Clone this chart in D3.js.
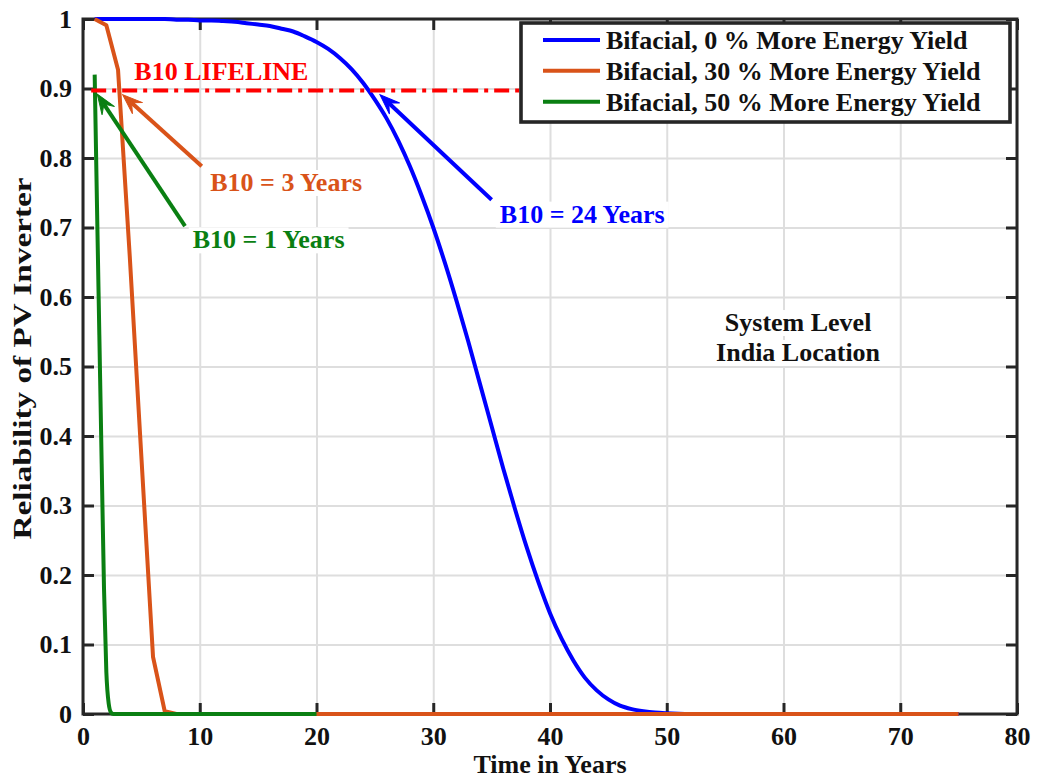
<!DOCTYPE html>
<html>
<head>
<meta charset="utf-8">
<script src="https://cdn.jsdelivr.net/npm/d3@7"></script>
<style>
  html, body { margin: 0; padding: 0; background: #ffffff; }
  svg { display: block; font-family: "Liberation Serif", "Times New Roman", serif; font-weight: bold; }
</style>
</head>
<body>
<svg id="chart" width="1039" height="780"></svg>
<script>
// ---- Data -------------------------------------------------------------
// Reliability of the PV inverter over time (years) for three bifacial gain cases.
const blueYears = [1, 2, 3, 4, 5, 6, 7, 8, 9, 10, 11, 12, 13, 14, 15, 16, 17, 18, 19, 20,
  21, 22, 23, 24, 25, 26, 27, 28, 29, 30, 31, 32, 33, 34, 35, 36, 37, 38, 39, 40,
  41, 42, 43, 44, 45, 46, 47, 48, 49, 50, 51, 52, 55, 75];
const reliability0 = [1, 1, 1, 1, 1, 1, 1, 0.999, 0.999, 0.998, 0.998, 0.997, 0.996, 0.994, 0.992, 0.990, 0.986, 0.982, 0.975, 0.967,
  0.957, 0.944, 0.928, 0.908, 0.884, 0.857, 0.825, 0.788, 0.746, 0.700, 0.649, 0.594, 0.536, 0.475, 0.414, 0.353, 0.295, 0.240, 0.190, 0.145,
  0.108, 0.077, 0.052, 0.034, 0.021, 0.012, 0.007, 0.004, 0.002, 0.001, 0.0004, 0.0001, 0, 0];

const orangeYears = [1, 2, 3, 4, 5, 6, 7, 8, 75];
const reliability30 = [1, 0.991, 0.927, 0.66, 0.37, 0.082, 0.004, 0, 0];

const greenYears = [1, 1.2, 1.4, 1.6, 1.8, 2.0, 2.2, 2.4, 2.6, 20];
const reliability50 = [0.92, 0.73, 0.545, 0.36, 0.18, 0.06, 0.015, 0.002, 0, 0];

const seriesNames = [
  "Bifacial, 0 % More Energy Yield",
  "Bifacial, 30 % More Energy Yield",
  "Bifacial, 50 % More Energy Yield"
];

const xTicks = [0, 10, 20, 30, 40, 50, 60, 70, 80];
const yTicks = [0, 0.1, 0.2, 0.3, 0.4, 0.5, 0.6, 0.7, 0.8, 0.9, 1];
const yTickLabels = ["0", "0.1", "0.2", "0.3", "0.4", "0.5", "0.6", "0.7", "0.8", "0.9", "1"];

// B10 lifeline (reliability level) and its extent in years
const b10Level = 0.897;
const b10Span = [0.7, 75];

// Annotation arrows: [tail year, tail reliability, tip year, tip reliability]
const arrowB10_0 = [35.0, 0.740, 25.44, 0.891];
const arrowB10_30 = [10.17, 0.788, 3.40, 0.891];
const arrowB10_50 = [8.74, 0.702, 1.22, 0.892];

// Annotation text anchors: [year, reliability]
const labelB10_0 = [35.7, 0.707];
const labelB10_30 = [10.9, 0.7525];
const labelB10_50 = [9.4, 0.670];
const labelLifeline = [4.4, 0.912];
const labelSystem = [61.25, 0.551];
const labelLocation = [61.25, 0.508];

// ---- Styles -----------------------------------------------------------
const BLUE = "#0000ff", ORANGE = "#d95319", GREEN = "#0a7f12", RED = "#ff0000";
const INK = "#262626", GRID = "#dedede";
const FONT = 26;
const LINE_W = 4;

// ---- Layout -----------------------------------------------------------
const svg = d3.select("#chart");
const L = 83, R = 1017, T = 19, B = 714;
const x = d3.scaleLinear().domain([0, 80]).range([L, R]);
const y = d3.scaleLinear().domain([0, 1]).range([B, T]);

// Grid
const grid = svg.append("g");
grid.append("g").attr("transform", `translate(0,${B})`)
  .call(d3.axisBottom(x).tickValues(xTicks).tickSize(-(B - T)).tickFormat(""))
  .call(g => g.select(".domain").remove())
  .call(g => g.selectAll("line").attr("stroke", GRID).attr("stroke-width", 2));
grid.append("g").attr("transform", `translate(${L},0)`)
  .call(d3.axisLeft(y).tickValues(yTicks).tickSize(-(R - L)).tickFormat(""))
  .call(g => g.select(".domain").remove())
  .call(g => g.selectAll("line").attr("stroke", GRID).attr("stroke-width", 2));

// Axes box and inward ticks
const TICK = 11;
const axes = svg.append("g");
function styleAxis(g) {
  g.select(".domain").remove();
  g.selectAll("line").attr("stroke", INK).attr("stroke-width", 3);
  g.selectAll("text").attr("fill", "#111").attr("font-size", FONT)
    .attr("font-family", "'Liberation Serif','Times New Roman',serif").attr("font-weight", "bold");
}
axes.append("g").attr("transform", `translate(0,${B})`)
  .call(d3.axisBottom(x).tickValues(xTicks).tickSizeInner(-TICK).tickSizeOuter(0).tickPadding(12.5))
  .call(styleAxis);
axes.append("g").attr("transform", `translate(0,${T})`)
  .call(d3.axisTop(x).tickValues(xTicks).tickSizeInner(-TICK).tickSizeOuter(0).tickFormat(""))
  .call(styleAxis);
axes.append("g").attr("transform", `translate(${L},0)`)
  .call(d3.axisLeft(y).tickValues(yTicks).tickSizeInner(-TICK).tickSizeOuter(0).tickPadding(11)
    .tickFormat((d, i) => yTickLabels[i]))
  .call(styleAxis);
axes.append("g").attr("transform", `translate(${R},0)`)
  .call(d3.axisRight(y).tickValues(yTicks).tickSizeInner(-TICK).tickSizeOuter(0).tickFormat(""))
  .call(styleAxis);
axes.append("rect").attr("x", L).attr("y", T).attr("width", R - L).attr("height", B - T)
  .attr("fill", "none").attr("stroke", INK).attr("stroke-width", 3);

// Axis titles
svg.append("text").attr("x", (L + R) / 2).attr("y", 773).attr("text-anchor", "middle")
  .attr("font-size", FONT).attr("fill", "#111").text("Time in Years");
svg.append("text").attr("transform", `translate(31,${(T + B) / 2 - 8}) rotate(-90)`)
  .attr("text-anchor", "middle").attr("font-size", FONT).attr("fill", "#111")
  .attr("textLength", 362).attr("lengthAdjust", "spacingAndGlyphs")
  .text("Reliability of PV Inverter");

// Curves
const series = [
  { xs: blueYears, ys: reliability0, color: BLUE, curve: d3.curveMonotoneX },
  { xs: orangeYears, ys: reliability30, color: ORANGE, curve: d3.curveLinear },
  { xs: greenYears, ys: reliability50, color: GREEN, curve: d3.curveMonotoneX }
];
const curves = svg.append("g");
series.forEach(s => {
  const pts = s.xs.map((t, i) => [t, s.ys[i]]);
  curves.append("path").datum(pts)
    .attr("fill", "none").attr("stroke", s.color).attr("stroke-width", LINE_W)
    .attr("stroke-linejoin", "round")
    .attr("d", d3.line().x(d => x(d[0])).y(d => y(d[1])).curve(s.curve));
});

// B10 lifeline
svg.append("line")
  .attr("x1", x(b10Span[0])).attr("x2", x(b10Span[1]))
  .attr("y1", y(b10Level)).attr("y2", y(b10Level))
  .attr("stroke", RED).attr("stroke-width", LINE_W).attr("stroke-dasharray", "15,6,4,6");

// Arrows
const ann = svg.append("g");
function arrow(a, color) {
  const x0 = x(a[0]), y0 = y(a[1]), x1 = x(a[2]), y1 = y(a[3]);
  const ang = Math.atan2(y1 - y0, x1 - x0);
  const HL = 20, HW = 15, notch = 0.6;
  const nx = x1 - Math.cos(ang) * HL * notch, ny = y1 - Math.sin(ang) * HL * notch;
  ann.append("line").attr("x1", x0).attr("y1", y0).attr("x2", nx).attr("y2", ny)
    .attr("stroke", color).attr("stroke-width", LINE_W);
  const head = [[0, 0], [-HL, HW / 2], [-HL * notch, 0], [-HL, -HW / 2]];
  ann.append("path")
    .attr("d", "M" + head.map(p => p.join(",")).join("L") + "Z")
    .attr("transform", `translate(${x1},${y1}) rotate(${ang * 180 / Math.PI})`)
    .attr("fill", color).attr("stroke", color).attr("stroke-width", 1).attr("stroke-linejoin", "miter");
}
arrow(arrowB10_0, BLUE);
arrow(arrowB10_30, ORANGE);
arrow(arrowB10_50, GREEN);

// Text annotations with white backing boxes
function boxedText(pos, str, color, anchor, boxed) {
  const g = ann.append("g");
  const t = g.append("text").attr("x", x(pos[0])).attr("y", y(pos[1]))
    .attr("text-anchor", anchor).attr("font-size", FONT).attr("fill", color).text(str);
  if (boxed) {
    const bb = t.node().getBBox();
    g.insert("rect", "text").attr("x", bb.x - 4).attr("y", bb.y + 2)
      .attr("width", bb.width + 8).attr("height", bb.height - 3).attr("fill", "#ffffff");
  }
}
boxedText(labelLifeline, "B10 LIFELINE", RED, "start", false);
boxedText(labelB10_30, "B10 = 3 Years", ORANGE, "start", true);
boxedText(labelB10_50, "B10 = 1 Years", GREEN, "start", true);
boxedText(labelB10_0, "B10 = 24 Years", BLUE, "start", true);
boxedText(labelSystem, "System Level", "#111", "middle", true);
boxedText(labelLocation, "India Location", "#111", "middle", true);

// Legend
const legend = svg.append("g");
const LX = 521, LY = 23, LW = 489, LH = 99;
legend.append("rect").attr("x", LX).attr("y", LY).attr("width", LW).attr("height", LH)
  .attr("fill", "#ffffff").attr("stroke", INK).attr("stroke-width", 3.6);
const rowY = [40, 70.7, 101.7];
seriesNames.forEach((name, i) => {
  legend.append("line").attr("x1", 543).attr("x2", 600).attr("y1", rowY[i]).attr("y2", rowY[i])
    .attr("stroke", series[i].color).attr("stroke-width", LINE_W);
  legend.append("text").attr("x", 606).attr("y", rowY[i] + 9)
    .attr("font-size", FONT).attr("fill", "#111").text(name);
});
</script>
</body>
</html>
